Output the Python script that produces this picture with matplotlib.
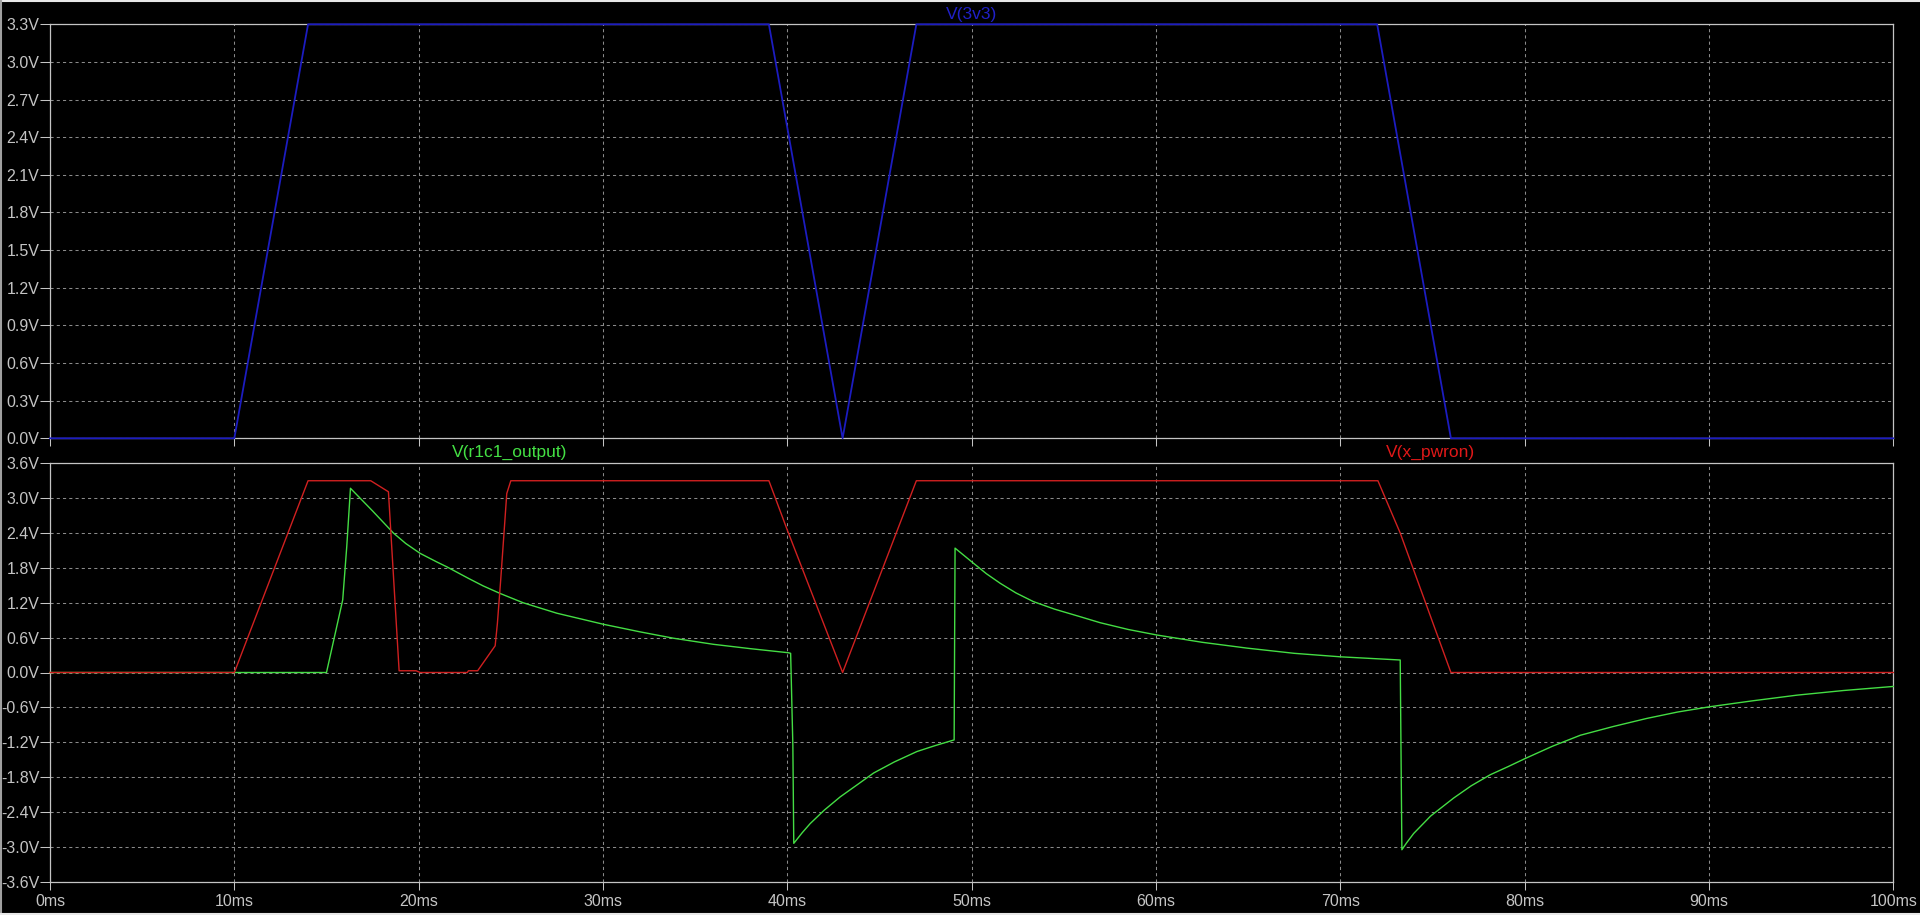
import matplotlib
matplotlib.use("Agg")
import matplotlib.pyplot as plt
from matplotlib.lines import Line2D

plt.rcParams['font.family'] = ['Liberation Sans', 'DejaVu Sans']

# ---- data (time in ms, voltage in V) ----
t_3v3 = [0, 10, 14, 39, 43, 47, 72, 76, 100]
v_3v3 = [0, 0, 3.3, 3.3, 0, 3.3, 3.3, 0, 0]

t_pwron = [0, 10, 14, 17.4, 18.36, 18.94, 19.86, 20.08, 22.64, 22.7, 23.2,
           24.15, 24.27, 24.45, 24.63, 24.78, 25.0, 39.0, 40.0, 43.0, 47.0,
           72.04, 73.25, 76.0, 100]
v_pwron = [0, 0, 3.3, 3.3, 3.11, 0.03, 0.03, 0.0, 0.0, 0.03, 0.03,
           0.46, 0.84, 1.59, 2.40, 3.08, 3.3, 3.3, 2.45, 0.0, 3.3,
           3.3, 2.40, 0.0, 0.0]

t_r1c1 = [0, 15.0, 15.88, 16.1, 16.3, 17.5, 18.63, 19.3, 20.08, 21.0, 21.52,
          22.7, 23.5, 24.42, 25.67, 27.5, 30.02, 32.0, 33.82, 35.99, 38.0,
          40.06, 40.18, 40.3, 40.35, 40.8, 41.24, 42.0, 42.87, 43.8, 44.68,
          45.8, 47.03, 48.0, 49.05, 49.1, 50.1, 50.8, 51.55, 52.4, 53.35,
          54.5, 55.89, 56.97, 58.5, 60.05, 62.5, 64.93, 67.5, 70.0, 73.25,
          73.34, 73.6, 73.98, 74.9, 76.15, 77.1, 78.13, 79.1, 80.03, 81.5,
          83.02, 84.8, 86.63, 88.3, 90.03, 92.3, 94.77, 97.3, 100]
v_r1c1 = [0, 0, 1.25, 2.17, 3.17, 2.78, 2.40, 2.22, 2.05, 1.90, 1.82,
          1.62, 1.49, 1.36, 1.20, 1.02, 0.83, 0.70, 0.59, 0.485, 0.41,
          0.34, 0.33, -1.25, -2.94, -2.76, -2.60, -2.37, -2.14, -1.93, -1.73,
          -1.54, -1.36, -1.26, -1.16, 2.14, 1.88, 1.70, 1.535, 1.37, 1.22,
          1.09, 0.96, 0.857, 0.74, 0.645, 0.52, 0.42, 0.33, 0.27, 0.215,
          -3.05, -2.93, -2.77, -2.47, -2.16, -1.95, -1.76, -1.62, -1.48, -1.27,
          -1.08, -0.93, -0.79, -0.68, -0.59, -0.49, -0.39, -0.31, -0.24]

x_ticks = list(range(0, 101, 10))
x_labels = [f"{x}ms" for x in x_ticks]
top_ticks = [i * 0.3 for i in range(12)]
bot_ticks = [i * 0.6 for i in range(-6, 7)]

W, H = 1920, 915
fig = plt.figure(figsize=(W / 100, H / 100), dpi=100, facecolor='black')

L, R = 50 / W, 1893.3 / W
ax1 = fig.add_axes([L, (H - 438.3) / H, R - L, (438.3 - 24.3) / H])
ax2 = fig.add_axes([L, (H - 881.7) / H, R - L, (881.7 - 463.3) / H])

grid_c = '#8a8a8a'
axis_c = '#c4c4c4'


def style(ax, yticks, ylim, show_xlabels):
    ax.set_facecolor('black')
    ax.set_xlim(0, 100)
    ax.set_ylim(*ylim)
    ax.set_xticks(x_ticks)
    ax.set_yticks(yticks)
    ax.set_yticklabels([f"{abs(v) if abs(v) < 1e-9 else v:.1f}V" for v in yticks])
    if show_xlabels:
        ax.set_xticklabels(x_labels)
    else:
        ax.set_xticklabels([])
    ax.tick_params(axis='y', colors=axis_c, labelcolor=axis_c, length=7.2,
                   width=0.75, pad=0.5, labelsize=11.5)
    ax.tick_params(axis='x', colors=axis_c, labelcolor=axis_c, length=6,
                   width=0.75, pad=3, labelsize=11.5)
    for s in ax.spines.values():
        s.set_color(axis_c)
        s.set_linewidth(0.9)
    ax.grid(True, color=grid_c, linestyle=(0, (3, 3)), linewidth=0.75)
    ax.set_axisbelow(True)


style(ax1, top_ticks, (0, 3.3), False)
style(ax2, bot_ticks, (-3.6, 3.6), True)

# traces (red drawn over green, as in the source)
ax1.plot(t_3v3, v_3v3, color='#1c1cc0', lw=1.3, clip_on=False, zorder=3)
ax2.plot(t_r1c1, v_r1c1, color='#44dd44', lw=1.0, clip_on=False, zorder=3)
ax2.plot(t_pwron, v_pwron, color='#d02020', lw=1.0, clip_on=False, zorder=4)

# trace names
fig.text(972 / W, 1 - 14 / H, 'V(3v3)', color='#2020c8', fontsize=12.5,
         ha='center', va='center')
fig.text(510 / W, 1 - 452 / H, 'V(r1c1_output)', color='#44e044', fontsize=12.5,
         ha='center', va='center')
fig.text(1430 / W, 1 - 452 / H, 'V(x_pwron)', color='#e01818', fontsize=12.5,
         ha='center', va='center')

# window frame remnants
fig.add_artist(Line2D([0, 1], [1 - 1 / H, 1 - 1 / H], color='#e8e8e8', lw=1.5))
fig.add_artist(Line2D([1 / W, 1 / W], [0, 1], color='#a0a0a0', lw=1.5))
fig.add_artist(Line2D([0, 1], [1 / H, 1 / H], color='#e8e8e8', lw=1.5))

fig.savefig('out.png', dpi=100, facecolor='black')
